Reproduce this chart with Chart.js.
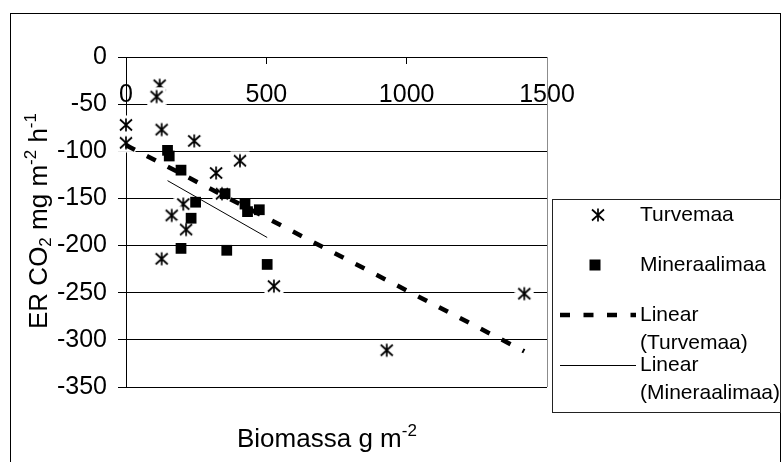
<!DOCTYPE html>
<html><head><meta charset="utf-8">
<style>html,body{margin:0;padding:0;background:#fff;}canvas{display:block;}</style>
<script src="https://cdn.jsdelivr.net/npm/chart.js@4.4.1/dist/chart.umd.min.js"></script>
</head><body>
<canvas id="c" width="782" height="462"></canvas>
<script>
// ---- data ----
const seriesNames = ['Turvemaa', 'Mineraalimaa'];
const turvemaaX = [0, 0, 120, 109, 127, 243, 406, 321, 342, 204, 163, 214, 127, 527, 929, 1419];
const turvemaaY = [-72, -91, -30, -42, -77, -89, -110, -123, -145, -156, -168, -183, -214, -243, -311, -251];
const mineraalimaaX = [148, 154, 196, 248, 232, 196, 353, 424, 433, 475, 359, 503];
const mineraalimaaY = [-99, -105, -120, -154, -171, -203, -145, -156, -164, -162, -205, -220];
const xTickValues = [0, 500, 1000, 1500];
const yTickValues = [0, -50, -100, -150, -200, -250, -300, -350];
const xTitle = ['Biomassa g m', '-2'];
const yTitle = ['ER CO', '2', ' mg m', '-2', ' h', '-1'];

const FONT = "'Liberation Sans', Arial, sans-serif";

function pts(xs, ys) { return xs.map((x, i) => ({ x: x, y: ys[i] })); }
function linearFit(xs, ys) {
  const n = xs.length;
  const mx = xs.reduce((a, b) => a + b, 0) / n;
  const my = ys.reduce((a, b) => a + b, 0) / n;
  let sxy = 0, sxx = 0;
  for (let i = 0; i < n; i++) { sxy += (xs[i] - mx) * (ys[i] - my); sxx += (xs[i] - mx) * (xs[i] - mx); }
  const k = sxy / sxx, b = my - k * mx;
  const x0 = Math.min(...xs), x1 = Math.max(...xs);
  return [{ x: x0, y: k * x0 + b }, { x: x1, y: k * x1 + b }];
}

function makeAsterisk(bg) {
  const c = document.createElement('canvas');
  c.width = 20; c.height = 20;
  const g = c.getContext('2d');
  if (bg) { g.fillStyle = '#fff'; g.fillRect(0.5, 0.5, 19, 19); }
  g.strokeStyle = '#000'; g.lineWidth = 1.7;
  g.beginPath();
  g.moveTo(10, 3.5); g.lineTo(10, 16.5);
  g.moveTo(4, 4.5); g.lineTo(16, 15.5);
  g.moveTo(16, 4.5); g.lineTo(4, 15.5);
  g.stroke();
  return c;
}
const asteriskImg = makeAsterisk(true);
const asteriskLegend = makeAsterisk(false);

const DASH = [10, 13.5];

function drawRich(ctx, parts, sizes, offs, x, y) {
  let cx = x;
  parts.forEach((t, i) => {
    ctx.font = sizes[i] + 'px ' + FONT;
    ctx.fillText(t, cx, y + offs[i]);
    cx += ctx.measureText(t).width;
  });
}
function richWidth(ctx, parts, sizes) {
  let w = 0;
  parts.forEach((t, i) => { ctx.font = sizes[i] + 'px ' + FONT; w += ctx.measureText(t).width; });
  return w;
}

const extras = {
  id: 'extras',
  afterDraw(chart) {
    const ctx = chart.ctx, a = chart.chartArea;
    ctx.save();
    // outer frame
    ctx.strokeStyle = '#000'; ctx.lineWidth = 1;
    ctx.strokeRect(10.5, 13.5, 770, 470);
    // plot area right border
    ctx.strokeStyle = '#8c8c8c';
    ctx.beginPath(); ctx.moveTo(Math.round(a.right) + 0.5, a.top); ctx.lineTo(Math.round(a.right) + 0.5, a.bottom); ctx.stroke();
    ctx.fillStyle = '#000';
    ctx.textBaseline = 'alphabetic'; ctx.textAlign = 'left';
    // x title
    const xs = [26, 17], xo = [0, -11];
    drawRich(ctx, xTitle, xs, xo, 237, 447);
    // y title
    const ys = [26, 17, 26, 17, 26, 17], yo = [0, 4, 0, -11, 0, -11];
    const yw = richWidth(ctx, yTitle, ys);
    ctx.save();
    ctx.translate(47, (a.top + a.bottom) / 2 - 1);
    ctx.rotate(-Math.PI / 2);
    drawRich(ctx, yTitle, ys, yo, -yw / 2, 0);
    ctx.restore();
    // legend
    ctx.strokeStyle = '#222'; ctx.lineWidth = 1;
    ctx.strokeRect(552.5, 199.5, 228, 213);
    ctx.drawImage(asteriskLegend, 598 - 10, 215 - 10);
    ctx.fillRect(595 - 5.5, 265 - 5.5, 11, 11);
    ctx.setLineDash(DASH); ctx.lineWidth = 4.5; ctx.strokeStyle = '#000';
    ctx.beginPath(); ctx.moveTo(560, 315); ctx.lineTo(636, 315); ctx.stroke();
    ctx.setLineDash([]); ctx.lineWidth = 1;
    ctx.beginPath(); ctx.moveTo(560, 365.5); ctx.lineTo(636, 365.5); ctx.stroke();
    ctx.font = '21px ' + FONT; ctx.textBaseline = 'middle';
    ctx.fillText(seriesNames[0], 640, 215);
    ctx.fillText(seriesNames[1], 640, 265);
    ctx.fillText('Linear', 640, 315);
    ctx.fillText('(' + seriesNames[0] + ')', 640, 343);
    ctx.fillText('Linear', 640, 365);
    ctx.fillText('(' + seriesNames[1] + ')', 640, 393);
    ctx.restore();
  }
};

new Chart(document.getElementById('c'), {
  type: 'scatter',
  data: {
    datasets: [
      { label: seriesNames[0], data: pts(turvemaaX, turvemaaY), pointStyle: asteriskImg, clip: false, order: 3 },
      { label: seriesNames[1], data: pts(mineraalimaaX, mineraalimaaY), pointStyle: 'rect', clip: false,
        pointRadius: 7.6, backgroundColor: '#000', borderColor: '#000', borderWidth: 0, order: 2 },
      { label: 'Linear (' + seriesNames[0] + ')', data: linearFit(turvemaaX, turvemaaY), showLine: true, clip: false,
        borderColor: '#000', borderWidth: 4.5, borderDash: DASH, borderCapStyle: 'butt', pointRadius: 0, order: 1 },
      { label: 'Linear (' + seriesNames[1] + ')', data: linearFit(mineraalimaaX, mineraalimaaY), showLine: true, clip: false,
        borderColor: '#000', borderWidth: 1, pointRadius: 0, order: 0 }
    ]
  },
  options: {
    responsive: false, animation: false, devicePixelRatio: 1,
    layout: { padding: { left: 0, top: 57, right: 235, bottom: 75 } },
    plugins: { legend: { display: false }, tooltip: { enabled: false } },
    scales: {
      x: {
        type: 'linear', position: { y: 0 }, min: 0, max: 1500,
        afterBuildTicks: s => { s.ticks = xTickValues.map(v => ({ value: v })); },
        afterFit: s => { s.height = 0; },
        grid: { display: true, drawOnChartArea: false, drawTicks: true, tickLength: 6, color: '#000' },
        border: { display: true, color: '#000', width: 1 },
        ticks: { color: '#000', font: { family: FONT, size: 25 }, padding: 17, maxRotation: 0, autoSkip: false,
                 callback: v => String(v) }
      },
      y: {
        type: 'linear', position: 'left', min: -350, max: 0,
        afterBuildTicks: s => { s.ticks = yTickValues.map(v => ({ value: v })); },
        afterFit: s => { s.width = 126; },
        grid: { color: '#000', lineWidth: 1, tickLength: 8 },
        border: { display: true, color: '#000', width: 1 },
        ticks: { color: '#000', font: { family: FONT, size: 25 }, padding: 11, autoSkip: false,
                 callback: v => String(v) }
      }
    }
  },
  plugins: [extras]
});
</script>
</body></html>
